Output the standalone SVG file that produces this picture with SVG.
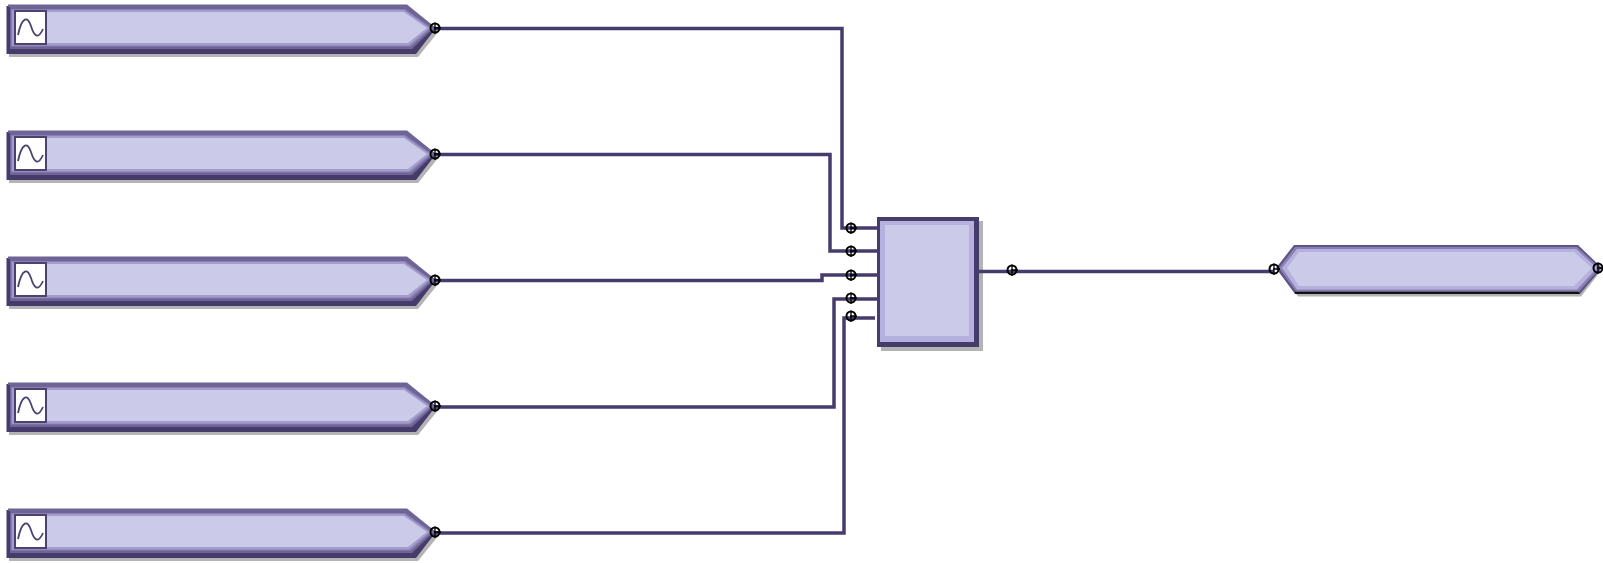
<svg xmlns="http://www.w3.org/2000/svg" width="1603" height="563" viewBox="0 0 1603 563">
<defs>
<style>
.wire{fill:none;stroke:#463c6c;stroke-width:3.500}
.c0{fill:#b4b4b4}.c1{fill:#463c6c}.c2{fill:#6f6496}.c3{fill:#a39ccd}.c4{fill:#cbcae8}
.ico{fill:#fff;stroke:#4b4270;stroke-width:2}
.sin{fill:none;stroke:#4b4270;stroke-width:1.800}
.pc{fill:none;stroke:#000;stroke-width:2}
</style>
<g id="src">
<polygon class="c0" points="9,8 410,8 439,31 418,57 9,57"/>
<polygon class="c1" points="6.500,6 406,6 436,28 416,54 6.500,54"/>
<polygon points="8,4.500 407,4.500 436,28 432,31 404,7 8,7" fill="#6f6496"/>
<polygon class="c2" points="10,7 405,7 434,28 412,49 10,49"/>
<polygon points="11,9 405,9 432,28 411,46.500 11,46.500" fill="#8a80b2"/>
<polygon class="c3" points="12,10 404,10 430,28 409,45.500 12,45.500"/>
<polygon class="c4" points="14,12 404,12 427,28 408,43 14,43"/>
<rect class="ico" x="15" y="11" width="31" height="33"/>
<path class="sin" d="M18,35C22,16 28,16 31,26S38,40 43,29"/>
</g>
<g id="p">
<circle class="pc" cx="0" cy="0" r="4.500"/>
<path d="M0,-5.500V6M-1,0H6" stroke="#000" stroke-width="1.300" fill="none"/>
</g>
</defs>
<g id="source-1"><use href="#src"/></g>
<g id="source-2" transform="translate(0,126)"><use href="#src"/></g>
<g id="source-3" transform="translate(0,252)"><use href="#src"/></g>
<g id="source-4" transform="translate(0,378)"><use href="#src"/></g>
<g id="source-5" transform="translate(0,504)"><use href="#src"/></g>
<g id="block">
<rect class="c0" x="881" y="221" width="102" height="130"/>
<rect class="c1" x="877" y="217" width="102" height="130"/>
<rect x="880" y="221" width="94" height="121" fill="#b5b0dd"/>
<rect class="c4" x="885" y="225" width="84" height="111"/>
</g>
<g id="sink">
<polygon class="c0" points="1279,272 1298,296.500 1581,296.500 1600,272 1580,250 1298,250"/>
<polygon points="1276,268 1294,245 1578,245 1602,268 1580,294 1295,294" fill="#5f5488"/>
<polygon points="1295,291.500 1578,291.500 1580,294 1295,294" fill="#111"/>
<polygon points="1279,268 1295,247 1577,247 1600,268 1579,291.500 1296,291.500" fill="#8a80b2"/>
<polygon points="1282,268 1297,249 1576,249 1597,268 1577,289.500 1297,289.500" fill="#b5b0dd"/>
<polygon class="c4" points="1287,268 1299,252 1574,252 1592,268 1574,286 1299,286"/>
</g>
<g id="connectors">
<path class="wire" d="M434,28.500H842V228H877"/>
<path class="wire" d="M434,154.500H830V251H877"/>
<path class="wire" d="M434,280.500H822V275H877"/>
<path class="wire" d="M434,407H834V299H877"/>
<path class="wire" d="M434,533H844V318H875"/>
<path class="wire" d="M979,271.500H1274"/>
</g>
<g id="ports">
<use href="#p" x="435" y="28"/><use href="#p" x="435" y="154"/><use href="#p" x="435" y="280"/><use href="#p" x="435" y="406"/><use href="#p" x="435" y="532"/>
<use href="#p" x="851" y="228"/><use href="#p" x="851" y="251"/><use href="#p" x="851" y="275"/><use href="#p" x="851" y="298"/><use href="#p" x="851" y="316"/>
<use href="#p" x="1012" y="270"/><use href="#p" x="1274" y="269"/><use href="#p" x="1598" y="268"/>
</g>
</svg>
